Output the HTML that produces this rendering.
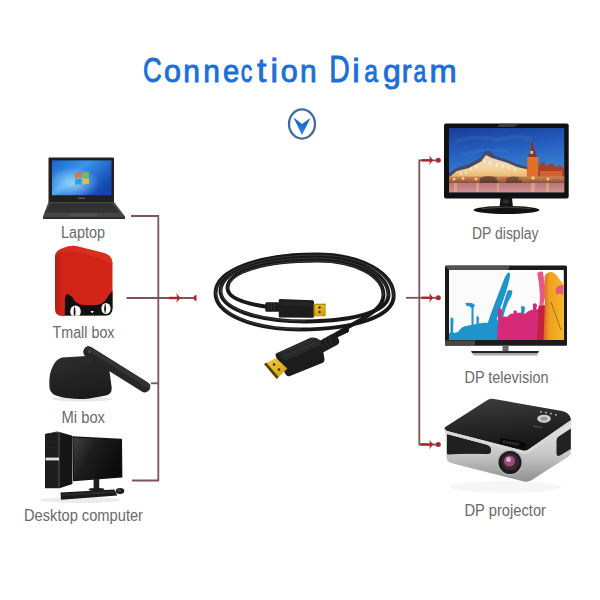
<!DOCTYPE html>
<html><head><meta charset="utf-8">
<style>
html,body{margin:0;padding:0;background:#fff;}
body{width:600px;height:600px;overflow:hidden;position:relative;font-family:"Liberation Sans",sans-serif;}
svg{position:absolute;left:0;top:0;}
</style></head>
<body>
<svg width="600" height="600" viewBox="0 0 600 600">
<defs>
<linearGradient id="tg" x1="0" y1="0" x2="0" y2="1">
<stop offset="0" stop-color="#1f8be6"/><stop offset="1" stop-color="#1565c8"/>
</linearGradient>

<linearGradient id="lapscr" x1="0" y1="0" x2="1" y2="0.6">
<stop offset="0" stop-color="#1c62cc"/><stop offset="0.45" stop-color="#3a96ea"/><stop offset="1" stop-color="#1446b0"/>
</linearGradient>
<radialGradient id="lapglow" cx="0.35" cy="0.65" r="0.45">
<stop offset="0" stop-color="#b8ecff" stop-opacity="0.75"/><stop offset="1" stop-color="#9fe0ff" stop-opacity="0"/>
</radialGradient>
<linearGradient id="tmred" x1="0" y1="0" x2="1" y2="0">
<stop offset="0" stop-color="#b01c14"/><stop offset="0.12" stop-color="#cf2418"/><stop offset="1" stop-color="#d42418"/>
</linearGradient>
<linearGradient id="migrad" x1="0" y1="0" x2="0.3" y2="1">
<stop offset="0" stop-color="#2e2e2e"/><stop offset="1" stop-color="#1c1c1c"/>
</linearGradient>
<linearGradient id="dskscr" x1="0" y1="0" x2="1" y2="0.5">
<stop offset="0" stop-color="#404040"/><stop offset="0.45" stop-color="#1c1c1c"/><stop offset="1" stop-color="#0c0c0c"/>
</linearGradient>

<linearGradient id="goldg" x1="0" y1="0" x2="1" y2="1">
<stop offset="0" stop-color="#f5cf3a"/><stop offset="1" stop-color="#c89000"/>
</linearGradient>
<linearGradient id="goldg2" x1="0" y1="0" x2="1" y2="1">
<stop offset="0" stop-color="#f7d24a"/><stop offset="1" stop-color="#d09a00"/>
</linearGradient>
<linearGradient id="sky" x1="0" y1="0" x2="0.2" y2="1">
<stop offset="0" stop-color="#1a3c98"/><stop offset="0.4" stop-color="#2660c0"/><stop offset="0.7" stop-color="#357ccc"/><stop offset="1" stop-color="#5a8ccc"/>
</linearGradient>
<linearGradient id="bld" x1="0" y1="0" x2="0" y2="1">
<stop offset="0" stop-color="#7a6a70"/><stop offset="0.5" stop-color="#e0a050"/><stop offset="1" stop-color="#f0b060"/>
</linearGradient>
<linearGradient id="water" x1="0" y1="0" x2="0" y2="1">
<stop offset="0" stop-color="#b87878"/><stop offset="1" stop-color="#d09090"/>
</linearGradient>
<linearGradient id="orangeg" x1="0" y1="0" x2="1" y2="0">
<stop offset="0" stop-color="#e0602a"/><stop offset="0.3" stop-color="#f0a020"/><stop offset="1" stop-color="#f4b828"/>
</linearGradient>
<linearGradient id="silver" x1="0" y1="0" x2="0" y2="1">
<stop offset="0" stop-color="#e8e8e8"/><stop offset="0.55" stop-color="#c8c8c8"/><stop offset="1" stop-color="#909090"/>
</linearGradient>

<linearGradient id="wall" x1="0" y1="0" x2="0" y2="1">
<stop offset="0" stop-color="#e8d0c0"/><stop offset="0.45" stop-color="#f4d8a8"/><stop offset="1" stop-color="#e8a858"/>
</linearGradient>
<linearGradient id="lights" x1="0" y1="0" x2="0" y2="1">
<stop offset="0" stop-color="#d08850"/><stop offset="1" stop-color="#8a5040"/>
</linearGradient>

<linearGradient id="ptop" x1="0.3" y1="0" x2="0.5" y2="1">
<stop offset="0" stop-color="#3c3c3c"/><stop offset="0.5" stop-color="#262626"/><stop offset="1" stop-color="#141414"/>
</linearGradient>
<clipPath id="tmclip"><rect x="55" y="240" width="58" height="75.8"/></clipPath>
<linearGradient id="chev" x1="0" y1="0" x2="0" y2="1">
<stop offset="0" stop-color="#1858c8"/><stop offset="1" stop-color="#2a86ee"/>
</linearGradient>
</defs>
<!-- title -->
<g font-family="Liberation Sans" fill="#1a6fd8" stroke="#1a6fd8" stroke-width="0.9">
<text transform="scale(0.7200,1)" x="198.58" y="81.8" font-size="36">C</text>
<text transform="scale(0.9531,1)" x="172.10" y="81.8" font-size="32">o</text>
<text transform="scale(0.9343,1)" x="196.22" y="81.8" font-size="32">n</text>
<text transform="scale(0.9343,1)" x="217.62" y="81.8" font-size="32">n</text>
<text transform="scale(0.9124,1)" x="244.48" y="81.8" font-size="32">e</text>
<text transform="scale(0.7200,1)" x="334.38" y="81.8" font-size="32">c</text>
<text transform="scale(1.0200,1)" x="251.86" y="81.8" font-size="33">t</text>
<text transform="scale(1.0200,1)" x="265.17" y="81.8" font-size="33">i</text>
<text transform="scale(0.9531,1)" x="294.55" y="81.8" font-size="32">o</text>
<text transform="scale(0.9343,1)" x="321.13" y="81.8" font-size="32">n</text>
<text transform="scale(0.7879,1)" x="417.78" y="81.8" font-size="36">D</text>
<text transform="scale(1.0200,1)" x="345.31" y="81.8" font-size="33">i</text>
<text transform="scale(0.7726,1)" x="471.45" y="81.8" font-size="32">a</text>
<text transform="scale(1.0007,1)" x="382.71" y="81.8" font-size="32">g</text>
<text transform="scale(0.9250,1)" x="434.42" y="81.8" font-size="32">r</text>
<text transform="scale(0.7200,1)" x="574.31" y="81.8" font-size="32">a</text>
<text transform="scale(1.0200,1)" x="421.12" y="81.8" font-size="32">m</text>
</g>
<!-- chevron icon -->
<ellipse cx="302" cy="124" rx="13" ry="14.6" fill="none" stroke="#3d6c9e" stroke-width="2.3"/>
<path d="M293.5 117.5 L302 124 L310.5 118 L302 135 Z" fill="url(#chev)"/>


<!-- ===== LAPTOP ===== -->
<g id="laptop">
<path d="M49.5 157.5 H113 Q114 157.5 114 158.5 V202.5 H48.5 V158.5 Q48.5 157.5 49.5 157.5 Z" fill="#202020"/>
<rect x="52" y="160.4" width="59.5" height="34.8" fill="url(#lapscr)"/>
<rect x="52" y="160.4" width="59.5" height="34.8" fill="url(#lapglow)"/>
<path d="M52 190 Q70 178 84 176 L86 180 Q70 184 56 195.2 H52 Z" fill="#7fd0ff" opacity="0.25"/>
<g transform="translate(75,172) skewY(-4)" opacity="0.85">
<path d="M0 1 Q3 0 6.5 1 V6.5 Q3 5.5 0 6.5 Z" fill="#f26a2a"/>
<path d="M7.5 1 Q11 0 14 1 V6.5 Q11 5.5 7.5 6.5 Z" fill="#7fc241"/>
<path d="M0 7.5 Q3 6.5 6.5 7.5 V13 Q3 12 0 13 Z" fill="#1aa0e8"/>
<path d="M7.5 7.5 Q11 6.5 14 7.5 V13 Q11 12 7.5 13 Z" fill="#f7c22a"/>
</g>
<path d="M48.5 202 H114 L125 216.5 Q125.5 218.8 123.5 219 H44.5 Q42.5 218.8 43 216.5 Z" fill="#454545"/>
<path d="M50.5 203.5 H112 L119.5 212.5 H45.5 Z" fill="#2e2e2e"/>
<g stroke="#3e3e3e" stroke-width="0.6"><path d="M49 206 H114 M47.5 208.3 H116 M46.5 210.5 H118"/></g>
<path d="M70 213.3 H97 L97.5 216.5 H69.5 Z" fill="#505050"/>
<path d="M43 217.2 H125 V219 H43 Z" fill="#2a2a2a"/>
<rect x="78" y="197.5" width="7" height="1.5" fill="#555"/>
</g>

<!-- ===== TMALL BOX ===== -->
<g id="tmall">
<path d="M62 248.5 Q69 245 76 246 L104 253 Q112 255.5 112.5 263 V308 Q112.5 315.5 105 315.8 L62 316 Q55 316 55 309 V257 Q55 251 62 248.5 Z" fill="url(#tmred)"/>
<path d="M62 248.5 Q69 245 76 246 L104 253 Q112 255.5 112.5 263 V265 Q105 258 76 252 Q64 250 58 254 Q56 256 55 258 V257 Q55 251 62 248.5 Z" fill="#e03828" opacity="0.5"/>
<path d="M64.8 316 L65 299 Q65.5 293.5 68 294.3 Q72 296 74 300 Q77 304.5 84 305 H97 Q104 304 107 298 Q109 294 112.5 291 V308 Q112.5 315.5 105 315.8 Z" fill="#101010"/>
<g clip-path="url(#tmclip)"><ellipse cx="75.5" cy="311.5" rx="5.3" ry="6" fill="#fafafa"/>
<ellipse cx="106" cy="308.5" rx="4.6" ry="5.6" fill="#fafafa"/>
<path d="M74.5 306 Q76.5 312 74.5 318 Q72.8 312 74.5 306 Z" fill="#111"/>
<path d="M105 303 Q107 308.5 105 314 Q103.3 308.5 105 303 Z" fill="#111"/>
<path d="M90.5 311 H93.8 L92.2 313.6 Z" fill="#fff"/></g>
<path d="M64.8 316 H112" stroke="#fff" stroke-width="1.2" opacity="0.6"/>
</g>

<!-- ===== MI BOX ===== -->
<g id="mibox">
<ellipse cx="82" cy="399" rx="30" ry="2.5" fill="#e8e8e8"/>
<path d="M62 357.4 L95 355.6 Q104 355.5 108 362 L110 375 L111.7 387.7 Q112 394 106 395.5 L88 398.7 Q70 399.5 60.3 396.8 Q50.5 395 49.5 388 L49.3 382 Q49.5 372 53 366 Q56 359 62 357.4 Z" fill="url(#migrad)"/>
<g transform="translate(88.75,351.9) rotate(32)">
<rect x="-5.5" y="-5.5" width="77" height="11" rx="5.5" fill="#262626"/>
<rect x="-4.5" y="-5" width="75" height="4.5" rx="2.2" fill="#333"/>
<circle cx="0.5" cy="-0.5" r="1.3" fill="#8a3030"/>
</g>
</g>

<!-- ===== DESKTOP ===== -->
<g id="desktop">
<ellipse cx="80" cy="500" rx="40" ry="3" fill="#ececec"/>
<!-- tower side -->
<path d="M59.5 432 L72.4 435.8 V484 L59.5 488.3 Z" fill="#151515"/>
<!-- tower top -->
<path d="M45 434 L57 431.5 L59.5 432 L47 434.5 Z" fill="#333"/>
<!-- tower front -->
<path d="M45 434 L59.5 432 V488.3 L45 488.3 Z" fill="#1d1d1d"/>
<rect x="57.8" y="433" width="2.4" height="55" fill="#353535"/>
<rect x="45.6" y="457.6" width="13.4" height="2.8" fill="#e0e0e0"/>
<path d="M46 437 H57 M46 442 H57 M46 447 H57" stroke="#262626" stroke-width="0.8"/>
<!-- monitor -->
<path d="M72.4 436.25 L121.1 438.75 Q122 438.8 122 439.8 L122.4 477.5 L73 481.25 Z" fill="#121212"/>
<path d="M73.5 437.5 L120.8 439.8 L121.2 476.3 L74 480 Z" fill="url(#dskscr)"/>
<rect x="93.6" y="478.5" width="5.6" height="11.5" fill="#1e1e1e"/>
<ellipse cx="96.5" cy="489.5" rx="8" ry="1.6" fill="#1a1a1a"/>
<!-- keyboard -->
<path d="M60.5 492.6 L114.3 489.4 L117.4 495.6 L61 499.8 Z" fill="#1a1a1a"/>
<path d="M62 494 L113.5 491 L114.5 493 L62.3 496 Z" fill="#2a2a2a"/>
<ellipse cx="120" cy="491" rx="4.3" ry="3" fill="#1c1c1c"/>
<ellipse cx="119.3" cy="490.2" rx="2" ry="1.2" fill="#444"/>
</g>

<!-- ===== CABLE ===== -->
<g id="cable" fill="none" stroke-linecap="round">
<g stroke="#181818" stroke-width="3.9">
<path d="M215.5 293 C215.5 270 260 254.5 316 254.5 C362 254.5 393.7 273 393.7 296 C393.7 316 355 329.5 300 329.5 C250 329.5 215.5 313 215.5 293 Z"/>
<path d="M220.5 291 C220.5 270 262 257.5 316 257.5 C358 257.5 388.5 275 388.5 295 C388.5 310 360 321 305 321.5 C255 321.5 220.5 308 220.5 291 Z"/>
<path d="M265 306.5 C242 303 227.5 297 227.5 288 C227.5 272 264 260.5 316 260.5 C356 260 383.5 276 383.5 295 C383.5 306 372 314 355 323 L333 336"/>
</g>
<g stroke="#5a5a5a" stroke-width="0.9" opacity="0.55">
<path d="M215.5 293 C215.5 270 260 254.5 316 254.5 C362 254.5 393.7 273 393.7 296" transform="translate(0,0.6)"/>
<path d="M220.5 291 C220.5 270 262 257.5 316 257.5 C358 257.5 388.5 275 388.5 295" transform="translate(0,0.6)"/>
<path d="M227.5 288 C227.5 272 264 260.5 316 260.5 C356 260.5 383.5 276 383.5 295" transform="translate(0,0.6)"/>
<path d="M300 329.5 C250 329.5 215.5 313 215.5 293" transform="translate(0.6,-0.5)"/>
<path d="M305 321.5 C255 321.5 220.5 308 220.5 291" transform="translate(0.6,-0.5)"/>
</g>
<!-- small connector -->
<rect x="265.3" y="302.3" width="14" height="9.4" rx="1.5" fill="#1a1a1a"/>
<g stroke="#333" stroke-width="0.8">
<path d="M268.5 302.5 V311.5 M271.5 302.5 V311.5 M274.5 302.5 V311.5"/>
</g>
<path d="M280 299 L312.5 300.3 Q314 300.4 314 302 V316.5 Q314 317.8 312.5 317.8 L280 317.5 Q278.7 317.5 278.7 316 V300.5 Q278.7 299 280 299 Z" fill="#1d1d1d"/>
<path d="M281 301.5 L311.5 302.5 V306 L281 305 Z" fill="#262626"/>
<rect x="313.7" y="303.7" width="12" height="12.6" fill="url(#goldg)"/>
<path d="M313.7 303.7 V316.3 H315.2 V305 H325.7 V303.7 Z" fill="#8a6a00" opacity="0.6"/>
<circle cx="319.5" cy="307.5" r="1.2" fill="#3a2a00"/>
<circle cx="319.5" cy="312" r="1.2" fill="#3a2a00"/>
<!-- large connector -->
<path d="M347 330.5 L333 337" stroke="#171717" stroke-width="4.2" fill="none"/>
<path d="M316 343 L331 334.5 Q335 333 337 336 L339 340 Q340 343 337 345 L322 353 Z" fill="#1b1b1b"/>
<g stroke="#3a3a3a" stroke-width="0.8"><path d="M320 340.5 L324.5 349 M324 338.5 L328.5 347 M328 336.5 L332.5 345"/></g>
<path d="M276 353.5 L310.5 337.8 Q315 336.5 319 339.5 Q321.5 341.5 322 344 L324.5 359.5 Q324.5 362.5 321 363.5 L290 376 Q287 377 285.5 374 L276 357 Q275 355 276 353.5 Z" fill="#1c1c1c"/>
<path d="M277 353.5 L310.5 338.5 Q316 337 319.5 341 L321 345 L285 361 Z" fill="#292929"/>
<g stroke="#3c3c3c" stroke-width="0.7"><path d="M283 352 L313 339 M285 356 L316 342.5"/></g>
<path d="M264 364 L276 358 L287.25 368.5 L276.75 379 Z" fill="url(#goldg2)"/>
<path d="M264 364 L266.5 362.8 L278.5 377 L276.75 379 Z" fill="#3a2800" opacity="0.85"/>
<circle cx="274" cy="364.5" r="1.3" fill="#3a2a00"/>
<circle cx="279" cy="369.5" r="1.3" fill="#3a2a00"/>
</g>

<!-- ===== MONITOR (DP display) ===== -->
<g id="monitor">
<rect x="444" y="123.5" width="124.7" height="75" rx="2" fill="#111"/>
<path d="M500 123.5 H520 L514 127 H497 Z" fill="#555" opacity="0.6"/>
<rect x="449" y="128" width="115.2" height="64.3" fill="url(#sky)"/>
<path d="M455 142 Q475 134 498 140 Q515 134 532 139" stroke="#4a8ad8" stroke-width="4" fill="none" opacity="0.18"/>
<path d="M462 155 Q488 147 510 152" stroke="#5a9ae0" stroke-width="3" fill="none" opacity="0.15"/>
<!-- left building roof -->
<path d="M449 173 L456 168 L468 164.5 L480 158 L485.5 150.5 L489.5 151 L495 156 L508 160 L517 164 L528 167 V171 L449 177 Z" fill="#454a68"/>
<!-- left building walls lit -->
<path d="M449 177.5 L457 171 L469 168 L481 161.5 L486 155 L492 158 L508 163 L517 167 L528 169.5 V181 H449 Z" fill="url(#wall)"/>
<g fill="#fff4d8" opacity="0.75">
<rect x="470" y="167" width="1.6" height="3.5"/><rect x="475" y="165" width="1.6" height="3.5"/><rect x="484" y="160" width="1.6" height="3.5"/><rect x="489" y="161" width="1.6" height="3.5"/><rect x="496" y="163" width="1.6" height="3.5"/><rect x="502" y="164" width="1.6" height="3.5"/><rect x="508" y="166" width="1.6" height="3.5"/><rect x="514" y="168" width="1.6" height="3.5"/>
<rect x="460" y="172" width="1.6" height="3"/><rect x="465" y="171" width="1.6" height="3"/>
</g>
<!-- tower -->
<path d="M531.6 138.5 L533.3 144 L534.6 150 L536.3 154 L538.3 163 V181 H527.2 V163 L529 154 L530.5 150 Z" fill="#7a3a34"/>
<path d="M527.2 157 H538.3 V181 H527.2 Z" fill="#e0702c"/><rect x="530.3" y="151" width="2.8" height="2.8" fill="#f0c080"/>
<!-- right buildings -->
<path d="M538.3 181 V166 L543 161.5 L547 166 L552 163 L556 167 L560 165 L564.2 169 V181 Z" fill="#a8402a"/>
<path d="M540 171 H562 V181 H540 Z" fill="#d86a34" opacity="0.85"/>
<!-- ground lights -->
<rect x="449" y="176.5" width="115.2" height="6.5" fill="url(#lights)"/>
<g fill="#ffd890" opacity="0.85">
<circle cx="454" cy="179" r="1.6"/><circle cx="463" cy="178.5" r="1.4"/><circle cx="476" cy="179" r="1.6"/><circle cx="497" cy="179" r="1.6"/><circle cx="520" cy="179" r="1.6"/><circle cx="533" cy="178" r="1.8"/><circle cx="548" cy="179" r="1.5"/>
</g>
<path d="M480 178 Q488 174 498 178 L498 183 H480 Z" fill="#3a2a2a" opacity="0.6"/>
<path d="M506 178 Q514 175 522 178 L522 183 H506 Z" fill="#3a2a2a" opacity="0.5"/>
<!-- water -->
<rect x="449" y="183" width="115.2" height="9.3" fill="url(#water)"/>
<g fill="#f0b890" opacity="0.5">
<rect x="454" y="183" width="3" height="9"/><rect x="476" y="183" width="3" height="9"/><rect x="497" y="183" width="2" height="9"/><rect x="531" y="183" width="4" height="9"/><rect x="546" y="183" width="3" height="9"/>
</g>
<path d="M500.5 198 H512 L513 207.5 H499.5 Z" fill="#141414"/>
<rect x="503" y="199.5" width="6" height="4" fill="#3a3a3a" opacity="0.6"/>
<ellipse cx="506.5" cy="210" rx="33" ry="4" fill="#121212"/>
<path d="M482 208.5 Q506 205.5 531 208.5" stroke="#505050" stroke-width="0.9" fill="none"/>
</g>

<!-- ===== TV ===== -->
<g id="tv">
<rect x="445" y="265.5" width="122" height="80" rx="1.5" fill="#1a1a1a"/>
<path d="M445 265.5 H510 L508 270 H449 Z" fill="#6a6a6a" opacity="0.7"/>
<rect x="445" y="340" width="122" height="5.5" fill="#1c1c1c"/><rect x="445" y="340.5" width="30" height="4.5" fill="#5a5a5a" opacity="0.7"/>
<rect x="449" y="270" width="114.8" height="70" fill="#fbfbfb"/>
<g>
<!-- blue splash -->
<g fill="#1e94cc">
<path d="M449 340 V334 Q451 330 454 333 L458 332 Q462 326 466 326 L474 324.5 Q482 322 489 323 Q494 318 499 320 L508 318 L512 340 Z"/>
<path d="M487 325 Q491 313 496 300 Q500 290 503 282 Q505 276 508 272.5 Q510.5 272 510 276 Q508.5 284 506 292 Q501 306 495 325 Z"/>
<path d="M507.5 291 Q510 289 512.3 291 Q512.5 295 509 300 Q505 308 503 318 L500 318 Q503 303 507.5 291 Z"/>
<path d="M465 303.5 Q469 302 474 304 L475 306 Q473.5 306 473.5 310 L473.6 325 L471.5 325 L471.5 309 Q471 306 467 306 Z"/>
<path d="M476.5 316.5 Q478 315 479 317.5 L478.5 326 L476.5 326 Z"/>
<path d="M450.5 318 Q452.5 316.5 453.5 319 L453 334 L450.5 334 Z"/>
<path d="M521 306.5 Q523.5 305 525 307.5 L524 317 L521.5 317 Z"/>
</g>
<!-- magenta splash -->
<g fill="#d42a78">
<path d="M497 340 L498 322 Q502 315 507 317 Q511 312 515 314 Q520 311 525 314 Q530 309 535 310 L541 308 L545 340 Z"/>
<path d="M513.5 311 Q516 309 517 312 L516.5 318 L513.5 318 Z"/>
<path d="M533 304 Q536 302 537 305 L536 312 L533 312 Z"/>
<path d="M498 309 Q500.5 307 502 310 L501 320 L498 320 Z"/>
</g>
<path d="M537 340 L538.5 306 Q542 303 546 306 L548.5 340 Z" fill="#c42040"/>
<!-- pink tall tendril -->
<path d="M537.3 273 Q540 270.5 543 272 Q545.5 285 545 297 L543 306 L539.5 306 Q540.5 294 539 284 Z" fill="#e4588e"/>
<!-- orange/yellow -->
<path d="M543.5 340 L545 300 Q544 287 544.7 276 Q547 271.5 552 272 Q557 274 559 279 L563.8 284 V340 Z" fill="url(#orangeg)"/>
<path d="M555.8 288 Q560 284 563.5 285.5 L563.2 295 Q559 292 556 295 Z" fill="#e6508a" opacity="0.9"/>
<path d="M551 302 Q556 316 561 330" stroke="#3a3a20" stroke-width="0.8" fill="none" opacity="0.6"/>
<rect x="502.5" y="345.5" width="6" height="6" fill="#6a6a6a"/>
<path d="M471 351 H539 L538 353 H472 Z" fill="#262626"/>
<path d="M472 353 H538 L537 355.5 H474 Z" fill="#a8a8a8"/>
</g>

<!-- ===== PROJECTOR ===== -->
<g id="projector">
<ellipse cx="505" cy="487" rx="56" ry="6" fill="#f6f6f6"/>
<!-- silver body -->
<path d="M445 428 L446.5 458 Q447 462 451 463 L522 481 Q527 482.5 531 480.5 L568.5 456.5 Q571 454.5 571 451.5 L571.5 420 L527 450 Z" fill="url(#silver)"/>
<!-- left grille -->
<path d="M447 434.5 L486 445 Q490.5 446.5 490.5 450 Q490.5 453 486.5 452.5 L448 454.5 Q447 454.5 447 453 Z" fill="#1e1e1e"/>
<path d="M447 434 L486 444.5 Q491 446 491 449.5 V451 Q491 454.5 487 454 L448 453.5 Z" fill="#202020"/>
<!-- right grille -->
<path d="M558 437 L570.8 428.5 V449 L560 455.5 Q556.5 457 556.5 453 V441 Q556.5 438.5 558 437 Z" fill="#222"/>
<!-- top face -->
<path d="M445.3 427 L487.5 400 Q490.5 398.3 494 399 L562 411 Q569 412.5 570.5 418 L571 420 L528.5 449.5 Q526 451.2 522.5 450.5 L447 431 Q443 429.5 445.3 427 Z" fill="url(#ptop)"/>
<!-- silver rim edge -->
<path d="M445 428.5 L447 431 L522.5 450.5 Q526 451.2 528.5 449.5 L571.2 420 V423 L529 452.5 Q526 454.3 522 453.5 L446.5 434 Z" fill="#d8d8d8"/>
<!-- lens slot -->
<path d="M500 438 L522 441.5 Q526.5 442.5 526.5 446 L524 449 L499.5 443.5 Z" fill="#080808"/>
<path d="M503 440 L520 443 L518 446 L502 443 Z" fill="#3a3a3a" opacity="0.6"/>
<!-- lens -->
<circle cx="510" cy="462.5" r="12.8" fill="#b8b8b8"/>
<circle cx="510" cy="462.5" r="11.5" fill="#1c1c1c"/>
<circle cx="510.5" cy="462" r="8.5" fill="#352830"/>
<circle cx="509.5" cy="461" r="5.5" fill="#9a4a78"/>
<circle cx="508.5" cy="459.5" r="2.5" fill="#e0a8d0"/>
<!-- control panel -->
<ellipse cx="544" cy="418.7" rx="6.8" ry="4" fill="#d0d0d0"/>
<ellipse cx="544" cy="418.7" rx="3.5" ry="2" fill="#9a9a9a"/>
<g fill="#cfcfcf"><circle cx="541" cy="411.8" r="0.9"/><circle cx="546" cy="412.6" r="0.9"/><circle cx="551" cy="413.6" r="0.9"/><circle cx="556" cy="414.8" r="0.9"/></g>
<path d="M533 426 L542 427.5" stroke="#555" stroke-width="1.2"/>
</g>

<!-- labels -->
<g font-family="Liberation Sans" font-size="15.6" fill="#6a6a6a">
<text x="61" y="238" textLength="44" lengthAdjust="spacingAndGlyphs">Laptop</text>
<text x="52.5" y="338" textLength="62" lengthAdjust="spacingAndGlyphs">Tmall box</text>
<text x="61.5" y="423" textLength="43.5" lengthAdjust="spacingAndGlyphs">Mi box</text>
<text x="24" y="521" textLength="119" lengthAdjust="spacingAndGlyphs">Desktop computer</text>
<text x="472" y="238.5" textLength="66.5" lengthAdjust="spacingAndGlyphs">DP display</text>
<text x="464.5" y="382.5" textLength="84" lengthAdjust="spacingAndGlyphs">DP television</text>
<text x="464.5" y="516" textLength="81.5" lengthAdjust="spacingAndGlyphs">DP projector</text>
</g>

<!-- connector lines -->
<g fill="none" stroke="#7c5459" stroke-width="1.8">
<path d="M131 216 H158.3 V480.5 H132"/>
<path d="M151 383.3 H158.3"/>
<path d="M126.5 298 H195"/>
<path d="M437 160.3 H419.3 V444.5 H437"/>
<path d="M406 297.8 H436"/>
</g>
<g fill="#b0252c" stroke="none">
<!-- left arrow -->
<rect x="169" y="296.8" width="9.5" height="2.4"/>
<path d="M176.2 293.2 L180.6 298 L176.2 302.8 L177.4 298 Z"/>
<path d="M196.5 295 A2.8 3 0 0 0 196.5 301 Z"/>
<!-- right arrows -->
<rect x="421.7" y="159.1" width="9.5" height="2.4"/>
<path d="M429.2 155.6 L433.2 160.3 L429.2 165 L430.3 160.3 Z"/>
<circle cx="438.3" cy="160.3" r="2.5"/>
<rect x="421.7" y="296.6" width="9.5" height="2.4"/>
<path d="M429.2 293 L433.2 297.8 L429.2 302.6 L430.3 297.8 Z"/>
<circle cx="438.3" cy="297.8" r="2.5"/>
<rect x="420.5" y="443.3" width="10.5" height="2.4"/>
<path d="M429.2 439.7 L433.2 444.5 L429.2 449.3 L430.3 444.5 Z"/>
<circle cx="438.3" cy="444.5" r="2.5"/>
</g>
</svg>
</body></html>
